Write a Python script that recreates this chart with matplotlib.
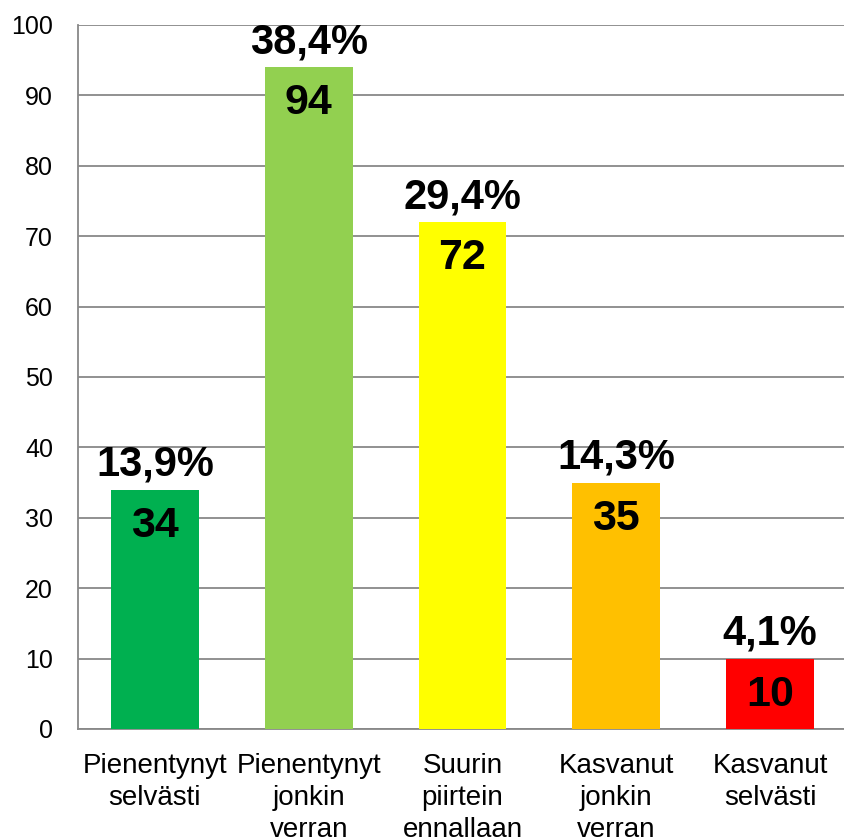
import matplotlib
matplotlib.use("Agg")
import matplotlib.pyplot as plt

categories = ["Pienentynyt\nselvästi", "Pienentynyt\njonkin\nverran",
              "Suurin\npiirtein\nennallaan", "Kasvanut\njonkin\nverran",
              "Kasvanut\nselvästi"]
counts = [34, 94, 72, 35, 10]
percents = ["13,9%", "38,4%", "29,4%", "14,3%", "4,1%"]
colors = ["#00B050", "#92D050", "#FFFF00", "#FFC000", "#FF0000"]
yticks = [0, 10, 20, 30, 40, 50, 60, 70, 80, 90, 100]

plt.rcParams['font.family'] = ['Liberation Sans', 'DejaVu Sans']

fig = plt.figure(figsize=(8.44, 8.40), dpi=100)
W, H = 844, 840
ax = fig.add_axes([78 / W, (H - 729) / H, (847 - 78) / W, 704 / H])

x = list(range(len(categories)))
ax.bar(x, counts, width=0.571, color=colors, zorder=3)

ax.set_xlim(-0.5, 4.5)
ax.set_ylim(0, 100)
ax.set_yticks(yticks)
ax.yaxis.grid(True, color="#888888", linewidth=1.3, zorder=0)
ax.set_axisbelow(True)

for s in ["top", "right"]:
    ax.spines[s].set_visible(False)
for s in ["left", "bottom"]:
    ax.spines[s].set_color("#888888")
    ax.spines[s].set_linewidth(1.3)

ax.tick_params(axis="y", length=0, pad=18, labelsize=18)
ax.tick_params(axis="x", length=0, pad=17, labelsize=20)
ax.set_xticks(x)
ax.set_xticklabels(categories, linespacing=1.3)

for xi, c, p in zip(x, counts, percents):
    ax.annotate(p, (xi, c), xytext=(0, 10), textcoords="offset points",
                ha="center", va="baseline", fontsize=30, fontweight="bold",
                zorder=5, annotation_clip=False)
    ax.annotate(str(c), (xi, c), xytext=(0, -26), textcoords="offset points",
                ha="center", va="center", fontsize=31, fontweight="bold",
                zorder=5)

fig.savefig("out.png", dpi=100)
